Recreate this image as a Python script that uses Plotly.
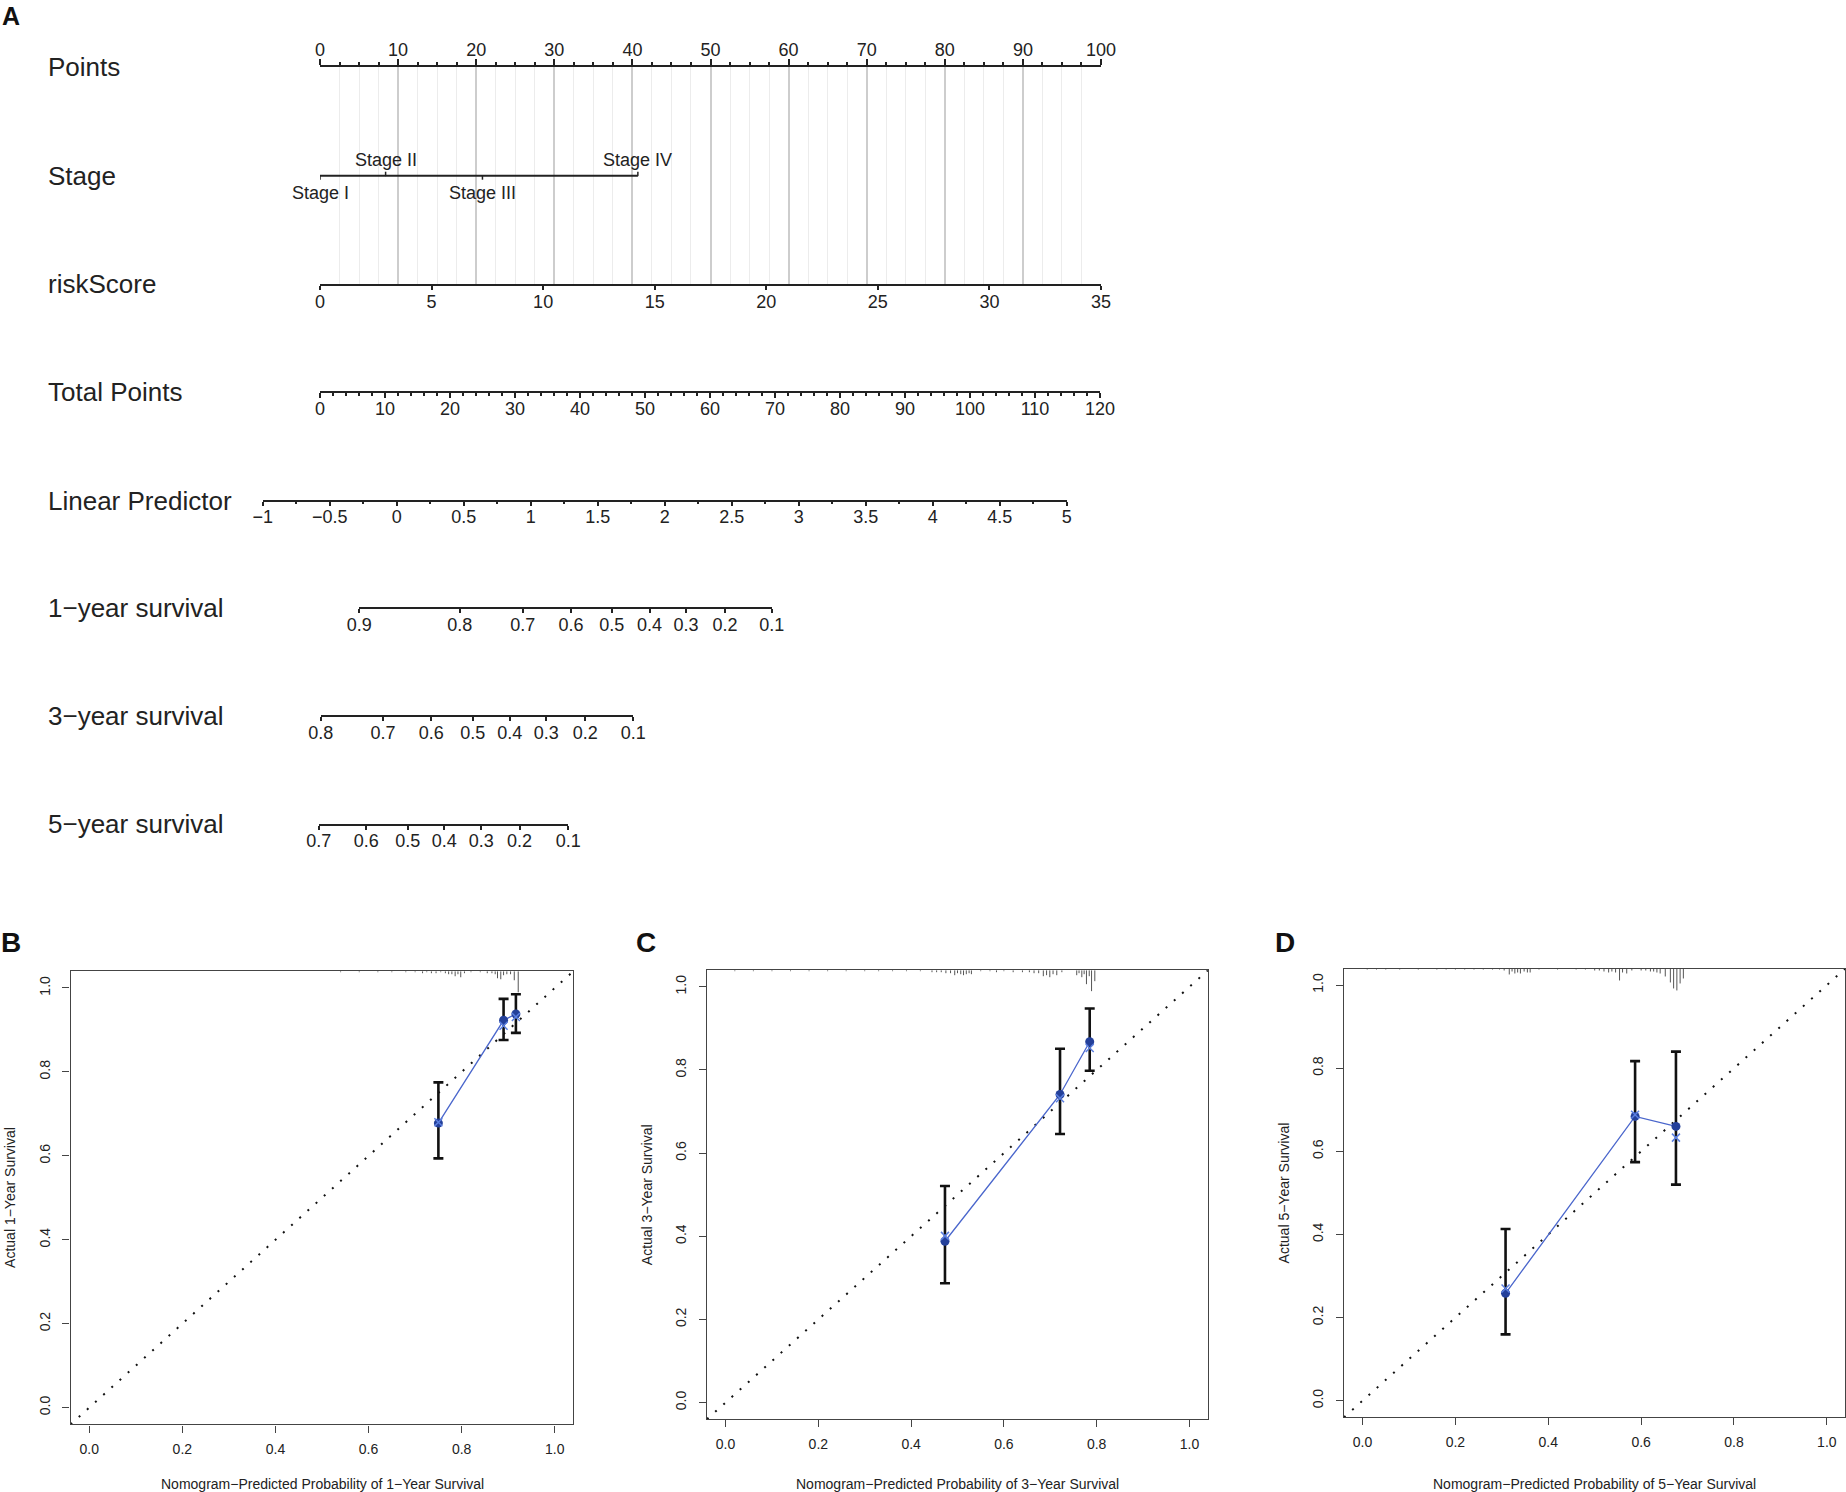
import plotly.graph_objects as go

W, H = 1846, 1492
PAGE_PAD = 0  # body margin is removed in the page (see write_html below)
FONT = "Liberation Sans, Arial, Helvetica, sans-serif"
INK = "#222222"

# ---------------- panel A: nomogram ----------------
points_ticks = [0, 10, 20, 30, 40, 50, 60, 70, 80, 90, 100]
points_minor = [i * 2.5 for i in range(41)]

stage_labels = ["Stage I", "Stage II", "Stage III", "Stage IV"]
stage_points = [0, 8.4, 20.8, 40.7]
stage_above = [False, True, False, True]

risk_ticks = [0, 5, 10, 15, 20, 25, 30, 35]

total_ticks = [0, 10, 20, 30, 40, 50, 60, 70, 80, 90, 100, 110, 120]
total_minor = list(range(0, 121, 2))

lp_ticks = [-1, -0.5, 0, 0.5, 1, 1.5, 2, 2.5, 3, 3.5, 4, 4.5, 5]
lp_text = ["\u22121", "\u22120.5", "0", "0.5", "1", "1.5", "2", "2.5", "3", "3.5", "4", "4.5", "5"]
lp_minor = [-1 + 0.25 * i for i in range(25)]
# linear predictor value -> total points
lp_anchor = [(-1, -8.8), (5, 114.9)]

surv1_labels = ["0.9", "0.8", "0.7", "0.6", "0.5", "0.4", "0.3", "0.2", "0.1"]
surv1_total = [6.05, 21.5, 31.2, 38.6, 44.9, 50.7, 56.3, 62.3, 69.5]
surv3_labels = ["0.8", "0.7", "0.6", "0.5", "0.4", "0.3", "0.2", "0.1"]
surv3_total = [0.1, 9.7, 17.1, 23.5, 29.2, 34.8, 40.8, 48.2]
surv5_labels = ["0.7", "0.6", "0.5", "0.4", "0.3", "0.2", "0.1"]
surv5_total = [-0.2, 7.1, 13.5, 19.1, 24.8, 30.7, 38.2]

# ---------------- panels B-D: calibration ----------------
cal_ticks = [0, 0.2, 0.4, 0.6, 0.8, 1.0]
cal_text = ["0.0", "0.2", "0.4", "0.6", "0.8", "1.0"]
AXIS_RANGE = [-0.04, 1.04]

b_pred = [0.750, 0.890, 0.9165]
b_obs = [0.678, 0.923, 0.938]
b_lo = [0.594, 0.876, 0.893]
b_hi = [0.775, 0.974, 0.985]
b_corr = [0.680, 0.910, 0.931]
b_rug_x = [0.54, 0.58, 0.62, 0.65, 0.68, 0.70, 0.716, 0.725, 0.735, 0.745, 0.755, 0.765,
           0.772, 0.779, 0.786, 0.792, 0.798, 0.806, 0.82, 0.84, 0.855, 0.865, 0.872,
           0.877, 0.884, 0.89, 0.897, 0.905, 0.913, 0.9215]
b_rug_n = [1, 1, 1, 1, 1, 1, 2, 1, 2, 2, 1, 2, 3, 3, 5, 3, 6, 2, 1, 1, 2, 2, 3, 7, 8, 4, 3, 3, 9, 21]

c_pred = [0.473, 0.721, 0.785]
c_obs = [0.388, 0.741, 0.868]
c_lo = [0.287, 0.646, 0.798]
c_hi = [0.521, 0.851, 0.948]
c_corr = [0.401, 0.732, 0.853]
c_rug_x = [0.02, 0.06, 0.1, 0.14, 0.18, 0.22, 0.26, 0.3, 0.33, 0.36, 0.39, 0.42, 0.445,
           0.455, 0.465, 0.475, 0.485, 0.494, 0.50, 0.507, 0.513, 0.519, 0.525, 0.53,
           0.55, 0.57, 0.584, 0.60, 0.62, 0.64, 0.655, 0.665, 0.675, 0.685, 0.692, 0.699,
           0.706, 0.714, 0.725, 0.757, 0.762, 0.768, 0.773, 0.778, 0.784, 0.789, 0.796]
c_rug_n = [1, 1, 1, 1, 1, 1, 1, 1, 1, 1, 1, 1, 2, 2, 2, 3, 3, 5, 3, 4, 5, 4, 3, 4,
           1, 1, 2, 1, 2, 2, 2, 3, 3, 6, 5, 7, 4, 5, 2, 5, 3, 7, 4, 14, 6, 21, 11]

d_pred = [0.308, 0.587, 0.675]
d_obs = [0.2585, 0.684, 0.660]
d_lo = [0.1595, 0.574, 0.520]
d_hi = [0.413, 0.817, 0.840]
d_corr = [0.270, 0.688, 0.633]
d_rug_x = [0.01, 0.03, 0.05, 0.08, 0.12, 0.16, 0.18, 0.2, 0.22, 0.24, 0.26, 0.28, 0.295,
           0.305, 0.316, 0.322, 0.328, 0.334, 0.340, 0.348, 0.355, 0.361, 0.38, 0.42,
           0.46, 0.48, 0.5, 0.51, 0.52, 0.53, 0.537, 0.545, 0.5535, 0.56, 0.569, 0.58,
           0.6, 0.61, 0.62, 0.627, 0.634, 0.641, 0.652, 0.663, 0.670, 0.677, 0.684, 0.691]
d_rug_n = [1, 1, 1, 1, 1, 1, 1, 1, 1, 1, 1, 1, 1, 2, 6, 3, 5, 4, 5, 3, 4, 4, 1, 1,
           1, 1, 2, 2, 3, 4, 3, 4, 12, 4, 5, 2, 2, 2, 3, 3, 4, 5, 8, 14, 20, 22, 15, 10]
RUG_UNIT = 0.0024


# page pixel -> paper fraction
def px_x(p):
    return (p - PAGE_PAD) / W


def py(p):
    return 1 - (p - PAGE_PAD) / H


def xdom(a, b):
    return [px_x(a), px_x(b)]


def ydom(top, bottom):
    return [py(bottom), py(top)]


# pixel layout of the nomogram
PTS_PX = (320, 1101)
TOT_PX = (320, 1100)
ROW = dict(points=67, stage=175.7, risk=284, total=392.3, lp=500.7,
           s1=608.3, s3=716.4, s5=824.5)


def tp_px(tp):
    return TOT_PX[0] + tp * (TOT_PX[1] - TOT_PX[0]) / 120.0


def lp_to_tp(v):
    (a0, t0), (a1, t1) = lp_anchor
    return t0 + (v - a0) * (t1 - t0) / (a1 - a0)


fig = go.Figure()

nomo_axis = dict(showline=True, linecolor=INK, linewidth=2, ticks="outside",
                 tickcolor=INK, tickwidth=1.5, showgrid=False, zeroline=False,
                 automargin=False, ticklabelstandoff=-4,
                 tickfont=dict(size=18, color=INK, family=FONT), tickmode="array")

layout_axes = {}
layout_axes["xaxis"] = dict(nomo_axis, domain=xdom(*PTS_PX), range=[0, 100], side="top",
                            anchor="y", tickvals=points_ticks, ticklen=6,
                            showgrid=True, gridcolor="#cdcdcd", gridwidth=1.5,
                            minor=dict(tickmode="array", tickvals=points_minor, ticklen=3,
                                       tickcolor=INK, showgrid=True, gridcolor="#ececec",
                                       gridwidth=1))
layout_axes["yaxis"] = dict(domain=ydom(ROW["points"], ROW["risk"]),
                            range=[ROW["risk"], ROW["points"]], visible=False,
                            automargin=False)
layout_axes["xaxis2"] = dict(nomo_axis, overlaying="x", anchor="y", side="bottom",
                             range=[0, 35], tickvals=risk_ticks, ticklen=4)
layout_axes["xaxis3"] = dict(nomo_axis, anchor="free", position=py(ROW["total"]),
                             domain=xdom(tp_px(0), tp_px(120)), range=[0, 120],
                             tickvals=total_ticks, ticklen=4.5,
                             minor=dict(tickmode="array", tickvals=total_minor,
                                        ticklen=2.5, tickcolor=INK))
lp_lo, lp_hi = lp_ticks[0], lp_ticks[-1]
layout_axes["xaxis4"] = dict(nomo_axis, anchor="free", position=py(ROW["lp"]),
                             domain=xdom(tp_px(lp_to_tp(lp_lo)), tp_px(lp_to_tp(lp_hi))),
                             range=[lp_lo, lp_hi], tickvals=lp_ticks, ticktext=lp_text,
                             ticklen=4,
                             minor=dict(tickmode="array", tickvals=lp_minor, ticklen=2.5,
                                        tickcolor=INK))
for ax, key, labels, tot in [("xaxis5", "s1", surv1_labels, surv1_total),
                             ("xaxis6", "s3", surv3_labels, surv3_total),
                             ("xaxis7", "s5", surv5_labels, surv5_total)]:
    layout_axes[ax] = dict(nomo_axis, anchor="free", position=py(ROW[key]),
                           domain=xdom(tp_px(tot[0]), tp_px(tot[-1])),
                           range=[tot[0], tot[-1]], tickvals=tot, ticktext=labels,
                           ticklen=4)

# empty traces so every free axis gets a subplot
for n in range(2, 8):
    fig.add_trace(go.Scatter(x=[], y=[], xaxis="x%d" % n, yaxis="y",
                             showlegend=False, hoverinfo="skip"))

# stage row
fig.add_trace(go.Scatter(x=stage_points, y=[ROW["stage"]] * len(stage_points),
                         mode="lines", line=dict(color=INK, width=2),
                         xaxis="x", yaxis="y", showlegend=False, hoverinfo="skip"))
fig.add_trace(go.Scatter(
    x=stage_points, y=[ROW["stage"]] * len(stage_points), mode="markers",
    marker=dict(size=1, color=INK),
    error_y=dict(type="data", symmetric=False,
                 array=[0 if up else 4 for up in stage_above],
                 arrayminus=[4 if up else 0 for up in stage_above],
                 color=INK, thickness=1.5, width=0),
    xaxis="x", yaxis="y", showlegend=False, hoverinfo="skip"))

annotations = []
for lab, xv, up in zip(stage_labels, stage_points, stage_above):
    annotations.append(dict(x=xv, y=ROW["stage"], xref="x", yref="y", text=lab,
                            showarrow=False, yshift=16 if up else -17,
                            font=dict(size=18, color=INK, family=FONT)))

row_titles = [("Points", "points"), ("Stage", "stage"), ("riskScore", "risk"),
              ("Total Points", "total"), ("Linear Predictor", "lp"),
              ("1\u2212year survival", "s1"), ("3\u2212year survival", "s3"),
              ("5\u2212year survival", "s5")]
for txt, key in row_titles:
    annotations.append(dict(x=px_x(46), y=py(ROW[key]), xref="paper", yref="paper",
                            text=txt, showarrow=False, xanchor="left", yanchor="middle",
                            font=dict(size=26, color=INK, family=FONT)))

# ---------------- calibration panels ----------------
panels = [
    dict(tag="B", yr="1", pred=b_pred, obs=b_obs, lo=b_lo, hi=b_hi, corr=b_corr,
         rx=b_rug_x, rn=b_rug_n, box=(70.6, 573.4, 971.2, 1424.4), lab=(11, 942)),
    dict(tag="C", yr="3", pred=c_pred, obs=c_obs, lo=c_lo, hi=c_hi, corr=c_corr,
         rx=c_rug_x, rn=c_rug_n, box=(707, 1208, 970.2, 1419.2), lab=(646, 942)),
    dict(tag="D", yr="5", pred=d_pred, obs=d_obs, lo=d_lo, hi=d_hi, corr=d_corr,
         rx=d_rug_x, rn=d_rug_n, box=(1344, 1845.4, 968.5, 1417.3), lab=(1285, 942)),
]

cal_axis = dict(range=AXIS_RANGE, tickmode="array", tickvals=cal_ticks, ticktext=cal_text,
                showline=True, mirror=True, linecolor="#444444", linewidth=1.3,
                ticks="outside", ticklen=7, tickwidth=1.1, tickcolor="#444444",
                showgrid=False, zeroline=False, automargin=False,
                tickfont=dict(size=14, color=INK, family=FONT))

for i, p in enumerate(panels):
    xa, ya = "x%d" % (8 + i), "y%d" % (2 + i)
    x0, x1, y0, y1 = p["box"]
    layout_axes["xaxis%d" % (8 + i)] = dict(cal_axis, domain=xdom(x0, x1), anchor=ya,
                                            ticklabelstandoff=5)
    layout_axes["yaxis%d" % (2 + i)] = dict(cal_axis, domain=ydom(y0, y1), anchor=xa,
                                            tickangle=-90, ticklabelstandoff=7)

    # ideal line
    fig.add_trace(go.Scatter(x=AXIS_RANGE, y=AXIS_RANGE, mode="lines",
                             line=dict(color="#111111", width=2, dash="2px,9px"),
                             xaxis=xa, yaxis=ya, showlegend=False, hoverinfo="skip"))
    # rug of predicted probabilities hanging from the top
    rx, ry = [], []
    for v, n in zip(p["rx"], p["rn"]):
        rx += [v, v, None]
        ry += [AXIS_RANGE[1], AXIS_RANGE[1] - n * RUG_UNIT, None]
    fig.add_trace(go.Scatter(x=rx, y=ry, mode="lines", line=dict(color="#555555", width=1),
                             xaxis=xa, yaxis=ya, showlegend=False, hoverinfo="skip"))
    # observed line
    fig.add_trace(go.Scatter(x=p["pred"], y=p["obs"], mode="lines",
                             line=dict(color="#4a66cc", width=1.3),
                             xaxis=xa, yaxis=ya, showlegend=False, hoverinfo="skip"))
    # observed with CI
    fig.add_trace(go.Scatter(
        x=p["pred"], y=p["obs"], mode="markers",
        marker=dict(size=9, color="#24409a"),
        error_y=dict(type="data", symmetric=False,
                     array=[h - o for h, o in zip(p["hi"], p["obs"])],
                     arrayminus=[o - l for o, l in zip(p["obs"], p["lo"])],
                     color="#111111", thickness=2.6, width=5),
        xaxis=xa, yaxis=ya, showlegend=False, hoverinfo="skip"))
    # bias-corrected
    fig.add_trace(go.Scatter(x=p["pred"], y=p["corr"], mode="markers",
                             marker=dict(symbol="x-thin", size=8,
                                         line=dict(width=1.5, color="#5b7fe0")),
                             xaxis=xa, yaxis=ya, showlegend=False, hoverinfo="skip"))

    cx, cy = (x0 + x1) / 2, (y0 + y1) / 2
    annotations.append(dict(x=px_x(cx), y=py(1484), xref="paper", yref="paper",
                            text="Nomogram\u2212Predicted Probability of %s\u2212Year Survival" % p["yr"],
                            showarrow=False, xanchor="center", yanchor="middle",
                            font=dict(size=14, color=INK, family=FONT)))
    annotations.append(dict(x=px_x(x0 - 60.5), y=py(cy), xref="paper", yref="paper",
                            text="Actual %s\u2212Year Survival" % p["yr"], textangle=-90,
                            showarrow=False, xanchor="center", yanchor="middle",
                            font=dict(size=14, color=INK, family=FONT)))
    annotations.append(dict(x=px_x(p["lab"][0]), y=py(p["lab"][1]), xref="paper",
                            yref="paper", text="<b>%s</b>" % p["tag"], showarrow=False,
                            xanchor="center", yanchor="middle",
                            font=dict(size=28, color="#111111", family=FONT)))

annotations.append(dict(x=px_x(11), y=py(16), xref="paper", yref="paper", text="<b>A</b>",
                        showarrow=False, xanchor="center", yanchor="middle",
                        font=dict(size=25, color="#111111", family=FONT)))

fig.update_layout(
    width=W, height=H,
    margin=dict(l=0, r=0, t=0, b=0, autoexpand=False),
    paper_bgcolor="white", plot_bgcolor="rgba(0,0,0,0)",
    font=dict(family=FONT, color=INK),
    showlegend=False,
    annotations=annotations,
    **layout_axes,
)

fig.write_html("out.html", config={"displayModeBar": False},
               post_script="document.body.style.margin = '0';")
